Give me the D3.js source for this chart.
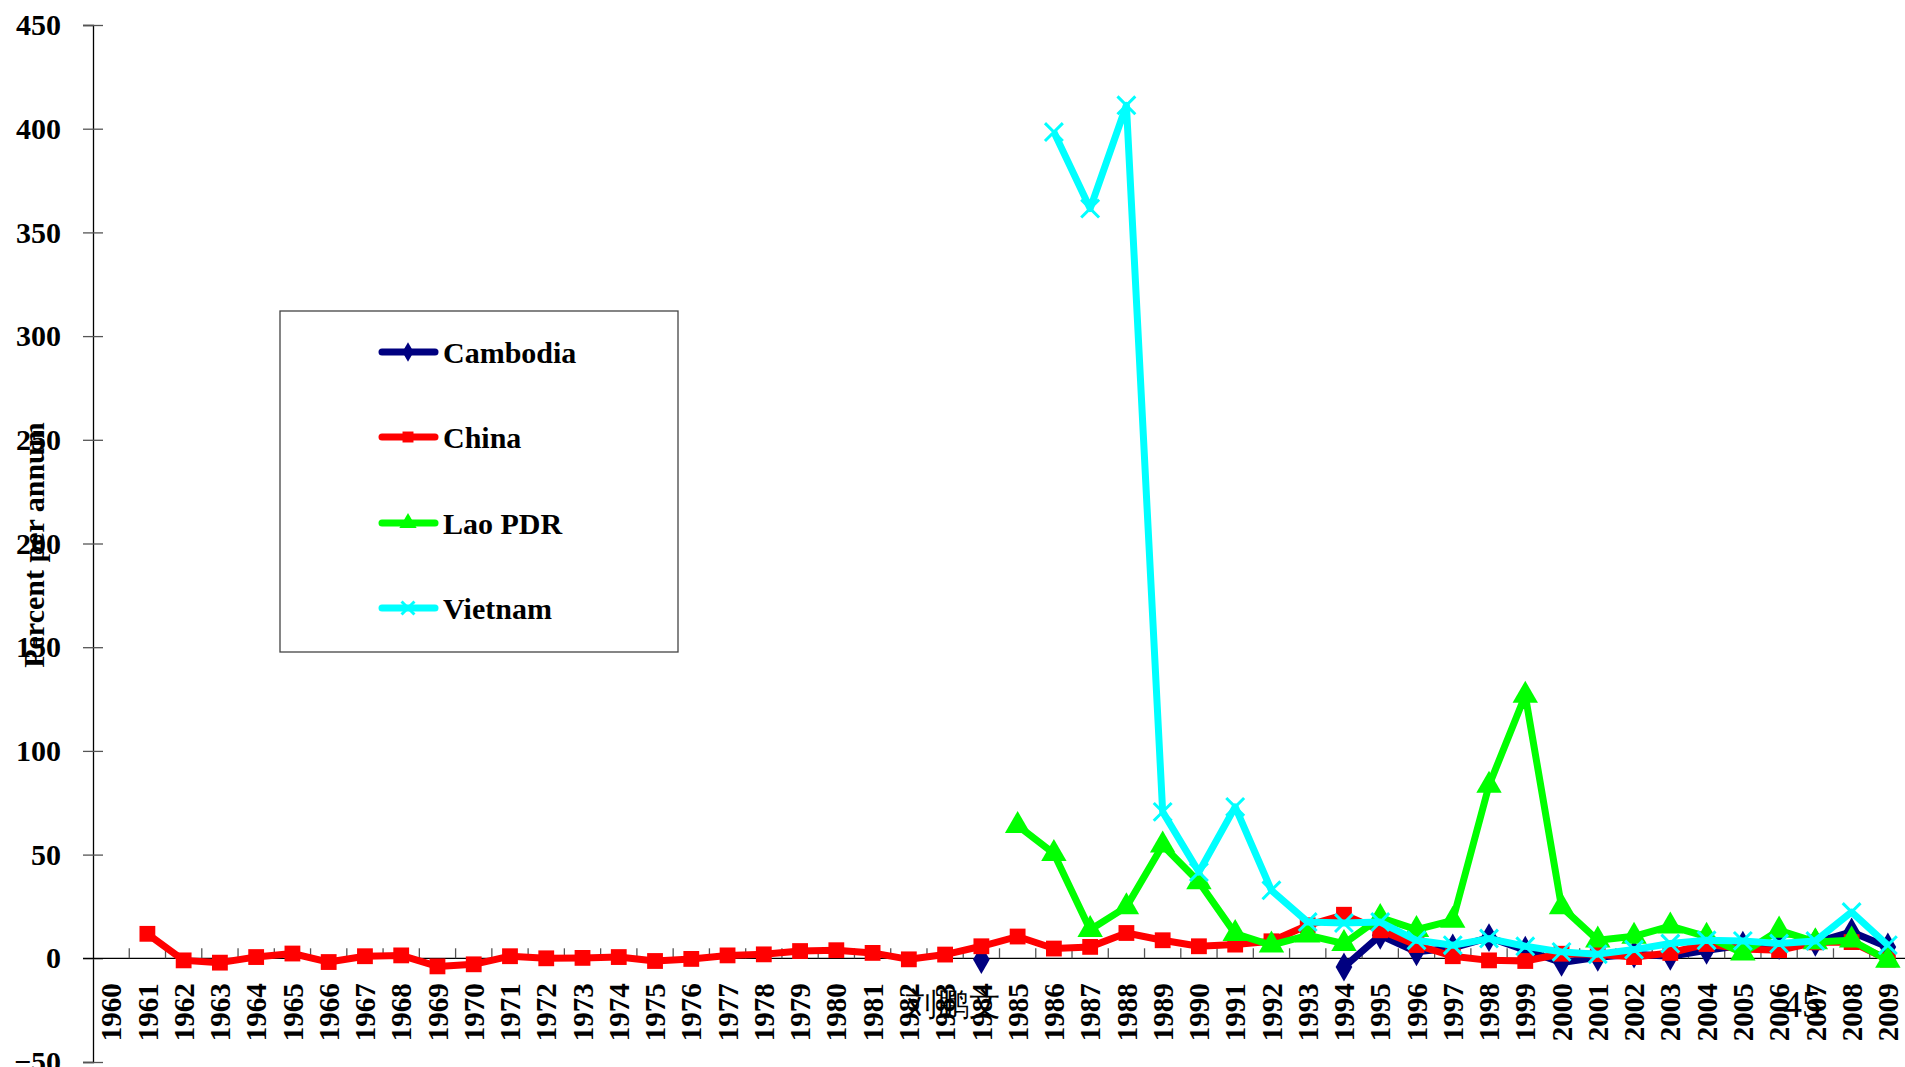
<!DOCTYPE html>
<html>
<head>
<meta charset="utf-8">
<title>Inflation, percent per annum</title>
<script src="https://cdn.jsdelivr.net/npm/d3@7"></script>
<style>
  body { margin: 0; background: #fff; }
  text { font-family: "Liberation Serif", "Times New Roman", serif; }
</style>
</head>
<body>
<script>

// Categories (years) and y tick labels
var years = d3.range(1960, 2010).map(String);
var yTicks = [-50, 0, 50, 100, 150, 200, 250, 300, 350, 400, 450];

// Series values, one per year 1960..2009 (null = no data)
var cambodia = [null, null, null, null, null, null, null, null, null, null,
  null, null, null, null, null, null, null, null, null, null,
  null, null, null, null, -0.6, null, null, null, null, null,
  null, null, null, null, -4.2, 11.1, 3.1, 5.0, 10.0, 3.9,
  -2.0, 0.5, 2.0, 1.0, 3.9, 6.3, 6.1, 7.7, 12.7, 5.5];

var china = [null, 11.8, -1.0, -2.1, 0.6, 2.3, -1.8, 1.0, 1.4, -3.9,
  -2.9, 1.0, 0.0, 0.2, 0.6, -1.3, -0.3, 1.4, 1.9, 3.5,
  3.9, 2.6, -0.5, 1.8, 5.8, 10.5, 4.7, 5.5, 12.2, 8.7,
  5.8, 6.6, 8.2, 15.9, 21.0, 13.5, 6.4, 1.0, -1.0, -1.3,
  2.2, 2.0, 0.6, 2.6, 6.9, 4.5, 3.9, 7.7, 7.8, -0.6];

var lao = [null, null, null, null, null, null, null, null, null, null,
  null, null, null, null, null, null, null, null, null, null,
  null, null, null, null, null, 64.0, 50.5, 13.8, 24.8, 54.5,
  36.8, 11.9, 6.3, 11.1, 7.1, 19.6, 13.8, 18.3, 83.4, 126.8,
  24.8, 8.7, 10.6, 15.5, 10.5, 2.5, 13.5, 7.9, 8.7, -1.0];

var vietnam = [null, null, null, null, null, null, null, null, null, null,
  null, null, null, null, null, null, null, null, null, null,
  null, null, null, null, null, null, 398.4, 361.5, 411.3, 70.6,
  41.6, 73.0, 32.8, 17.5, 17.0, 17.5, 8.7, 6.3, 9.5, 5.8,
  3.1, 2.0, 4.2, 7.1, 8.7, 8.4, 7.1, 8.3, 22.3, 6.3];

var seriesNames = ["Cambodia", "China", "Lao PDR", "Vietnam"];
var seriesValues = [cambodia, china, lao, vietnam];

drawChart();

function drawChart(){

  var w = 1905;
  var h = 1067;

  var svg = d3.select("body")
              .append("svg")
              .attr("width", w)
              .attr("height", h);

  // Scales
  var xScale = d3.scaleBand()
                 .domain(years)
                 .range([93, 1906]);

  var yScale = d3.scaleLinear()
                 .domain([-50, 450])
                 .range([1062, 25]);

  // Looks of each series
  var colors = ["#000080", "#ff0000", "#00ff00", "#00ffff"];
  var symbols = [d3.symbolDiamond, d3.symbolSquare, d3.symbolTriangle, d3.symbolX];
  var sizes = [240, 250, 280, 210];
  var legendSizes = [110, 120, 130, 110];

  // Y axis, ticks crossing the line
  var y = d3.axisLeft(yScale)
            .tickValues(yTicks)
            .tickSizeOuter(0)
            .tickSize(10)
            .tickPadding(22);

  var yAxis = svg.append("g")
                 .attr("transform", "translate(93, 0)")
                 .call(y);

  yAxis.select(".domain").attr("stroke", "#000").attr("stroke-width", 1.3);
  yAxis.selectAll(".tick line")
       .attr("x1", -10)
       .attr("x2", 10)
       .attr("stroke", "#555")
       .attr("stroke-width", 1.3);
  yAxis.selectAll("text")
       .attr("font-size", 30)
       .attr("font-weight", "bold")
       .attr("font-family", "Liberation Serif")
       .attr("fill", "#000");

  // X axis at zero, labels turned upright
  var x = d3.axisBottom(xScale)
            .tickSize(0)
            .tickSizeOuter(0);

  var xAxis = svg.append("g")
                 .attr("transform", `translate(0, ${yScale(0)})`)
                 .call(x);

  xAxis.select(".domain").remove();
  xAxis.append("line")
       .attr("x1", 83)
       .attr("x2", 1906)
       .attr("stroke", "#000")
       .attr("stroke-width", 1.3);

  // small tick marks between the categories
  xAxis.selectAll(".sep")
       .data(years.slice(1))
       .enter()
       .append("line")
       .attr("x1", d => xScale(d))
       .attr("x2", d => xScale(d))
       .attr("y1", 0)
       .attr("y2", -10)
       .attr("stroke", "#555")
       .attr("stroke-width", 1.3);

  xAxis.selectAll(".tick text")
       .attr("transform", "rotate(-90)")
       .attr("x", -25)
       .attr("y", 0)
       .attr("dy", "0.35em")
       .attr("text-anchor", "end")
       .attr("font-size", 29)
       .attr("font-weight", "bold")
       .attr("font-family", "Liberation Serif")
       .attr("fill", "#000");

  // Lines and markers
  seriesValues.forEach(function(vals, s){

    var pts = years.map((yr, i) => ({year: yr, value: vals[i]}));

    var line = d3.line()
                 .defined(d => d.value !== null)
                 .x(d => xScale(d.year) + xScale.bandwidth() / 2)
                 .y(d => yScale(d.value));

    svg.append("path")
       .datum(pts)
       .attr("d", line)
       .attr("fill", "none")
       .attr("stroke", colors[s])
       .attr("stroke-width", 7)
       .attr("stroke-linejoin", "round");

    var marks = svg.append("g")
                   .selectAll("path")
                   .data(pts.filter(d => d.value !== null))
                   .enter()
                   .append("path")
                   .attr("d", d3.symbol().type(symbols[s]).size(sizes[s]))
                   .attr("transform", d => `translate(${xScale(d.year) + xScale.bandwidth() / 2}, ${yScale(d.value)})`);

    if (symbols[s] === d3.symbolX) {
      marks.attr("fill", "none").attr("stroke", colors[s]).attr("stroke-width", 3);
    } else {
      marks.attr("fill", colors[s]);
    }
  });

  // Y axis title
  svg.append("text")
     .attr("transform", "translate(44, 545) rotate(-90)")
     .attr("text-anchor", "middle")
     .attr("font-size", 30)
     .attr("font-weight", "bold")
     .text("Percent per annum");

  // Legend
  var legend = svg.append("g");

  legend.append("rect")
        .attr("x", 280)
        .attr("y", 311)
        .attr("width", 398)
        .attr("height", 341)
        .attr("fill", "#fff")
        .attr("stroke", "#444")
        .attr("stroke-width", 1.3);

  var rows = [352, 437, 523, 608];

  seriesNames.forEach(function(name, s){
    legend.append("line")
          .attr("x1", 382)
          .attr("x2", 435)
          .attr("y1", rows[s])
          .attr("y2", rows[s])
          .attr("stroke", colors[s])
          .attr("stroke-width", 7)
          .attr("stroke-linecap", "round");

    var m = legend.append("path")
                  .attr("d", d3.symbol().type(symbols[s]).size(legendSizes[s]))
                  .attr("transform", `translate(408, ${rows[s]})`);
    if (symbols[s] === d3.symbolX) {
      m.attr("fill", "none").attr("stroke", colors[s]).attr("stroke-width", 3);
    } else {
      m.attr("fill", colors[s]);
    }

    legend.append("text")
          .attr("x", 443)
          .attr("y", rows[s])
          .attr("dy", "0.35em")
          .attr("font-size", 30)
          .attr("font-weight", "bold")
          .text(name);
  });

  // Leftover page texts
  svg.append("text")
     .attr("x", 905)
     .attr("y", 1015)
     .attr("font-size", 32)
     .attr("font-family", "Noto Sans CJK SC")
     .attr("font-weight", 300)
     .text("刘鹏文");

  svg.append("text")
     .attr("x", 1783)
     .attr("y", 1017)
     .attr("font-size", 38)
     .text("45");
};

</script>
</body>
</html>
